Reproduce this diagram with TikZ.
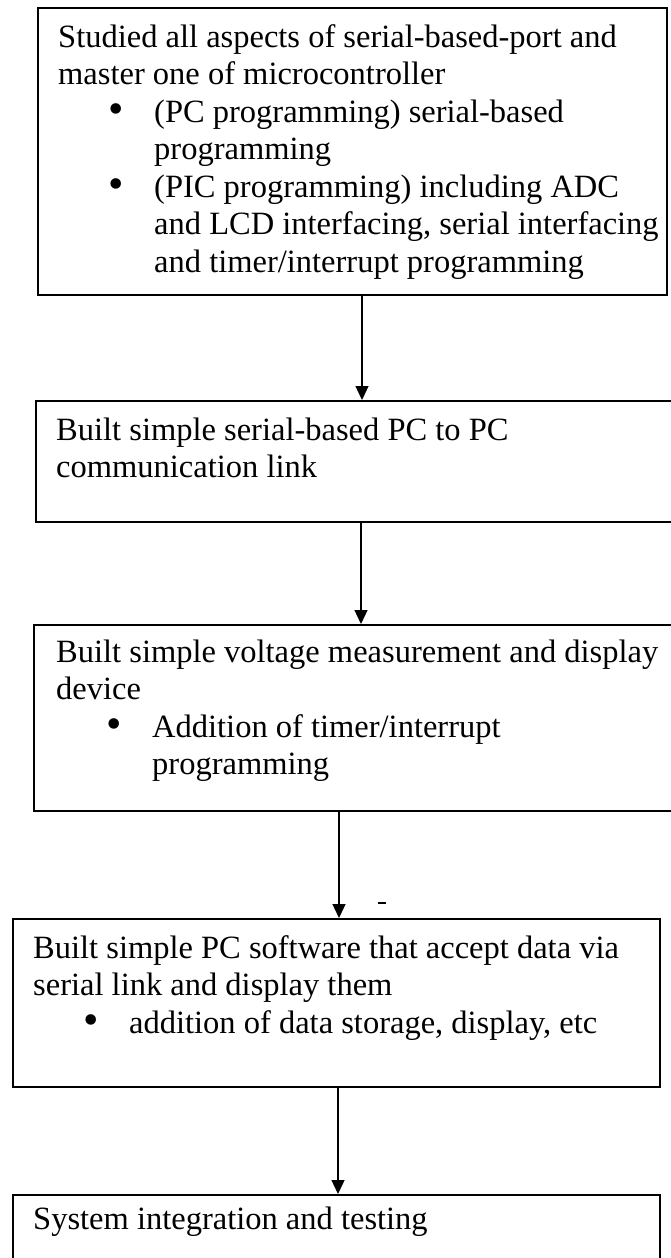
\documentclass[tikz,border=0pt]{standalone}
\usepackage{fontspec}
\setmainfont{Liberation Serif}
\usetikzlibrary{arrows.meta}
\newcommand{\bul}[1]{\makebox[96pt][l]{\hspace*{50pt}{\fontsize{44}{37.5}\selectfont\raisebox{-1pt}{\textbullet}}}#1}
\newcommand{\boxtext}[1]{\parbox[t]{660pt}{\fontsize{32.5}{37.5}\selectfont\raggedright #1}}
\tikzset{
  stepbox/.style={draw=black, line width=1.6pt, rectangle, anchor=north west, inner sep=0pt},
  txt/.style={anchor=base west, inner sep=0pt, text=black},
  arr/.style={draw=black, line width=1.3pt, -{Triangle[width=13pt,length=14pt]}, shorten >=0pt}
}
\begin{document}
\begin{tikzpicture}[x=1pt,y=-1pt]
\useasboundingbox (0,0) rectangle (671,1258);
\fill[white] (0,0) rectangle (671,1258);
% boxes
\node[stepbox, minimum width=629pt, minimum height=287pt] (b1) at (37,7) {};
\node[stepbox, minimum width=650pt, minimum height=121pt] (b2) at (35,400) {};
\node[stepbox, minimum width=652pt, minimum height=186pt] (b3) at (33,624) {};
\node[stepbox, minimum width=647pt, minimum height=168pt] (b4) at (12,918) {};
\node[stepbox, minimum width=647pt, minimum height=80pt] (b5) at (12,1194) {};
% texts
\node[txt] (t1) at (58,47) {\boxtext{Studied all aspects of serial-based-port and\\
master one of microcontroller\\
\bul{(PC programming) serial-based}\\
\hspace*{96pt}programming\\
\bul{(PIC programming) including ADC}\\
\hspace*{96pt}and LCD interfacing, serial interfacing\\
\hspace*{96pt}and timer/interrupt programming}};
\node[txt] (t2) at (56,440) {\boxtext{Built simple serial-based PC to PC\\
communication link}};
\node[txt] (t3) at (56,662) {\boxtext{Built simple voltage measurement and display\\
device\\
\bul{Addition of timer/interrupt}\\
\hspace*{96pt}programming}};
\node[txt] (t4) at (33,958) {\boxtext{Built simple PC software that accept data via\\
serial link and display them\\
\bul{addition of data storage, display, etc}}};
\node[txt] (t5) at (33,1229) {\boxtext{System integration and testing}};
% connectors
\coordinate (x1) at (362,0);
\coordinate (x2) at (361,0);
\coordinate (x3) at (339,0);
\coordinate (x4) at (338,0);
\draw[arr] (b1.south -| x1) -- (b2.north -| x1);
\draw[arr] (b2.south -| x2) -- (b3.north -| x2);
\draw[arr] (b3.south -| x3) -- (b4.north -| x3);
\draw[arr] (b4.south -| x4) -- (b5.north -| x4);
% stray mark
\coordinate (m1) at (378,903);
\coordinate (m2) at (386,903);
\draw[line width=2pt] (m1) -- (m2);
\end{tikzpicture}
\end{document}
